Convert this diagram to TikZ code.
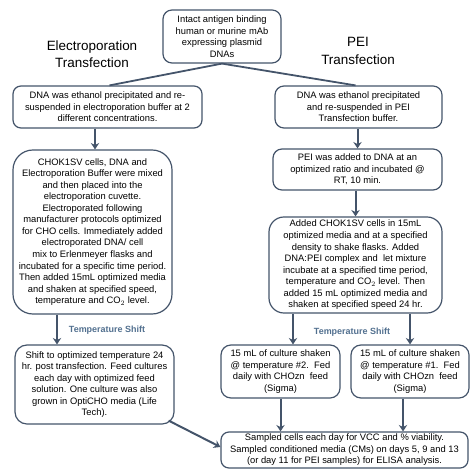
\documentclass[tikz,border=0pt]{standalone}
\usepackage{fontspec}
\setmainfont{Liberation Sans}
\usetikzlibrary{arrows.meta}
\definecolor{bord}{HTML}{44546A}
\definecolor{lab}{HTML}{52708F}
\begin{document}
\begin{tikzpicture}[x=1bp,y=-1bp,
  box/.style={draw=bord,line width=1.2pt,rectangle,inner sep=0pt,align=center,
    font=\fontsize{9.4}{11.6}\selectfont},
  arr/.style={draw=bord,line width=2pt,-{Stealth[length=6.5pt,width=8.5pt]}},
  ln/.style={draw=bord,line width=1.8pt},
  ttl/.style={align=center,font=\fontsize{13.5}{17.5}\selectfont},
  tslab/.style={text=lab,font=\bfseries\fontsize{9}{10}\selectfont,inner sep=0pt}]
\useasboundingbox (0,0) rectangle (470,474);
\node[box,rounded corners=9pt,minimum width=118bp,minimum height=53bp] (top) at (222,36.5)
  {Intact antigen binding\\human or murine mAb\\expressing plasmid\\DNAs};
\node[ttl] (t1) at (92,54) {Electroporation\\Transfection};
\node[ttl] (t2) at (358,51) {PEI\\Transfection};
\node[box,rounded corners=8pt,minimum width=189bp,minimum height=42bp] (E1) at (107.5,107)
  {DNA was ethanol precipitated and re-\\suspended in electroporation buffer at 2\\different concentrations.};
\node[box,rounded corners=20pt,minimum width=159bp,minimum height=164bp] (E2) at (92.5,232)
  {CHOK1SV cells, DNA and\\Electroporation Buffer were mixed\\and then placed into the\\electroporation cuvette.\\Electroporated following\\manufacturer protocols optimized\\for CHO cells. Immediately added\\electroporated DNA/ cell\\mix to Erlenmeyer flasks and\\incubated for a specific time period.\\Then added 15mL optimized media\\and shaken at specified speed,\\temperature and CO$_2$ level.};
\node[box,rounded corners=12pt,minimum width=159bp,minimum height=79bp] (E3) at (94.5,384.5)
  {Shift to optimized temperature 24\\hr. post transfection. Feed cultures\\each day with optimized feed\\solution. One culture was also\\grown in OptiCHO media (Life\\Tech).};
\node[box,rounded corners=9pt,minimum width=167bp,minimum height=42bp] (P1) at (358.5,107)
  {DNA was ethanol precipitated\\and re-suspended in PEI\\Transfection buffer.};
\node[box,rounded corners=9pt,minimum width=169bp,minimum height=41bp] (P2) at (357.5,169.5)
  {PEI was added to DNA at an\\optimized ratio and incubated @\\RT, 10 min.};
\node[box,rounded corners=15pt,minimum width=173bp,minimum height=96bp] (P3) at (355.5,265)
  {Added CHOK1SV cells in 15mL\\optimized media and at a specified\\density to shake flasks. Added\\DNA:PEI complex and\ \ let mixture\\incubate at a specified time period,\\temperature and CO$_2$ level. Then\\added 15 mL optimized media and\\shaken at specified speed 24 hr.};
\node[box,rounded corners=10pt,minimum width=119bp,minimum height=53bp] (P4) at (280.5,371.5)
  {15 mL of culture shaken\\@ temperature \#2.\ \ Fed\\daily with CHOzn\ \ feed\\(Sigma)};
\node[box,rounded corners=10pt,minimum width=118bp,minimum height=53bp] (P5) at (410,371.5)
  {15 mL of culture shaken\\@ temperature \#1.\ \ Fed\\daily with CHOzn\ \ feed\\(Sigma)};
\node[box,rounded corners=8pt,minimum width=247bp,minimum height=36bp] (F) at (344.5,450)
  {Sampled cells each day for VCC and \% viability.\\Sampled conditioned media (CMs) on days 5, 9 and 13\\(or day 11 for PEI samples) for ELISA analysis.};
\node[tslab] (ts1) at (107,330) {Temperature Shift};
\node[tslab] (ts2) at (352,332) {Temperature Shift};
% connectors
\draw[ln] (top.south) -- ([xshift=2bp]E1.north);
\draw[ln] (top.south) -- ([xshift=-3bp]P1.north);
\draw[arr] ([xshift=2.5bp]E1.south -| E2.north) -- ([xshift=2.5bp]E2.north);
\draw[arr] ([xshift=-35.5bp]E2.south) -- ([xshift=-35.5bp]E2.south |- E3.north);
\draw[arr] ([xshift=-6bp,yshift=4bp]E3.south east) -- ([yshift=3bp]F.west);
\draw[arr] (P1.south -| P2.north) -- (P2.north);
\draw[arr] (P2.south -| P3.north) -- (P3.north);
\draw[arr] ([xshift=12.5bp]P3.south -| P4.north) -- ([xshift=12.5bp]P4.north);
\draw[arr] (P3.south -| P5.north) -- (P5.north);
\draw[arr] (P4.south) -- (P4.south |- F.north);
\draw[arr] ([xshift=-7bp]P5.south) -- ([xshift=-7bp]P5.south |- F.north);
\end{tikzpicture}
\end{document}
